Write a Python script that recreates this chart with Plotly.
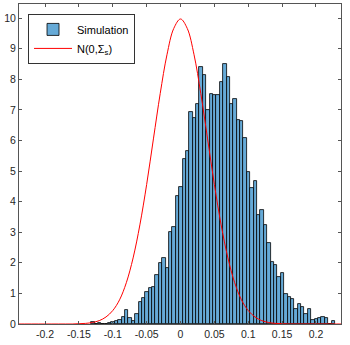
import plotly.graph_objects as go

# Histogram (pdf-normalised), bin width 0.005 starting at -0.132
bin_start = -0.132
bin_width = 0.005
density = [0.08, 0.0, 0.04, 0.0, 0.0, 0.04, 0.06, 0.10, 0.13, 0.24,
           0.46, 0.19, 0.10, 0.33, 0.72, 0.84, 1.06, 1.17, 1.22, 1.59,
           2.00, 2.17, 1.82, 3.02, 3.16, 4.18, 4.48, 5.38, 5.66, 6.92,
           6.72, 7.19, 8.39, 8.14, 6.99, 7.52, 7.47, 7.48, 7.90, 8.50,
           8.06, 7.20, 7.37, 6.68, 6.62, 6.08, 4.97, 4.43, 4.66, 3.55,
           3.72, 3.25, 2.64, 2.03, 1.94, 1.55, 1.68, 0.99, 0.87, 0.83,
           0.48, 0.64, 0.57, 0.34, 0.50, 0.13, 0.15, 0.20, 0.24, 0.19,
           0.0, 0.11]

# Red curve
curve_x = [-0.24, -0.23, -0.22, -0.21, -0.20, -0.19, -0.18, -0.17, -0.16, -0.15,
           -0.14, -0.13, -0.12, -0.11, -0.10, -0.09, -0.08, -0.07, -0.06, -0.05,
           -0.04, -0.03, -0.02, -0.01, 0.0, 0.01, 0.02, 0.03, 0.04, 0.05,
           0.06, 0.07, 0.08, 0.09, 0.10, 0.11, 0.12, 0.13, 0.14, 0.15,
           0.16, 0.17, 0.18, 0.19, 0.20, 0.21, 0.22, 0.23, 0.24]
curve_y = [0.0, 0.0, 0.0, 0.0, 0.0, 0.0, 0.0, 0.0, 0.0, 0.01,
           0.02, 0.05, 0.11, 0.23, 0.44, 0.79, 1.35, 2.16, 3.24, 4.56,
           6.05, 7.53, 8.80, 9.66, 9.97, 9.66, 8.80, 7.53, 6.05, 4.56,
           3.24, 2.16, 1.35, 0.79, 0.44, 0.23, 0.11, 0.05, 0.02, 0.01,
           0.0, 0.0, 0.0, 0.0, 0.0, 0.0, 0.0, 0.0, 0.0]

x_ticks = [-0.2, -0.15, -0.1, -0.05, 0, 0.05, 0.1, 0.15, 0.2]
x_tick_text = ["-0.2", "-0.15", "-0.1", "-0.05", "0", "0.05", "0.1", "0.15", "0.2"]
y_ticks = [0, 1, 2, 3, 4, 5, 6, 7, 8, 9, 10]

centers = [bin_start + bin_width * (i + 0.5) for i in range(len(density))]

fig = go.Figure()
fig.add_trace(go.Bar(
    x=centers, y=density, width=bin_width, name="Simulation",
    marker=dict(color="#66AAD7", line=dict(color="black", width=0.8)),
))
fig.add_trace(go.Scatter(
    x=curve_x, y=curve_y, mode="lines", name="N(0,Σ<sub>s</sub>)",
    line=dict(color="red", width=1, shape="spline"),
))

axis_common = dict(showline=True, linecolor="#555555", linewidth=1, mirror="ticks",
                   ticks="inside", ticklen=3, tickcolor="#555555",
                   showgrid=False, zeroline=False,
                   tickfont=dict(family="Liberation Sans, Arial", size=10.5, color="#262626"))

fig.update_layout(
    width=350, height=345,
    margin=dict(l=19, r=9, t=4, b=21),
    paper_bgcolor="white", plot_bgcolor="white",
    bargap=0,
    showlegend=True,
    legend=dict(x=0.028, y=0.969, xanchor="left", yanchor="top",
                bordercolor="#333333", borderwidth=1, bgcolor="white",
                itemwidth=38,
                font=dict(family="Liberation Sans, Arial", size=11, color="black"),
                tracegroupgap=0),
    xaxis=dict(range=[-0.2385, 0.237], tickvals=x_ticks, ticktext=x_tick_text, **axis_common),
    yaxis=dict(range=[0, 10.46], tickvals=y_ticks, **axis_common),
)

fig.write_html("out.html")
